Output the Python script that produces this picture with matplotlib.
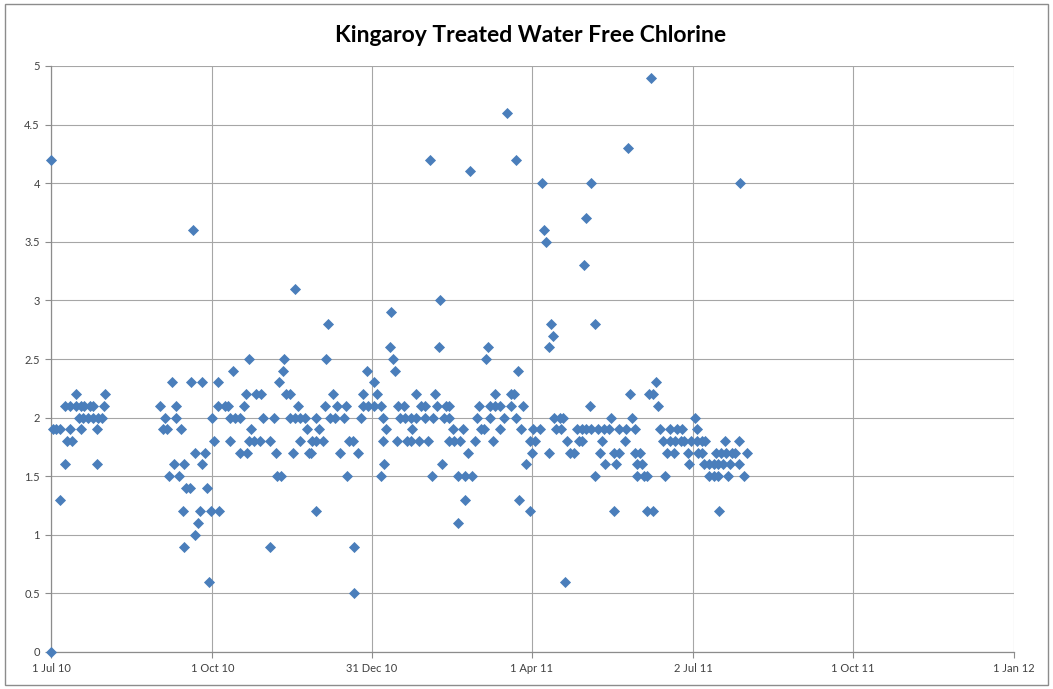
import matplotlib
matplotlib.use("Agg")
import matplotlib.pyplot as plt
import pandas as pd
from matplotlib.patches import Rectangle

# ---------------- data ----------------
title = "Kingaroy Treated Water Free Chlorine"
start_date = "2010-07-01"          # day 0 of the offsets below

# free chlorine levels (mg/L) and the sample days (days since 1 Jul 2010) at each level
levels = [4.9, 4.6, 4.3, 4.2, 4.1, 4.0, 3.7, 3.6, 3.5, 3.3, 3.1, 3.0, 2.9, 2.8, 2.7,
          2.6, 2.5, 2.4, 2.3, 2.2, 2.1, 2.0, 1.9, 1.8, 1.7, 1.6, 1.5, 1.4, 1.3, 1.2,
          1.1, 1.0, 0.9, 0.6, 0.5, 0.0]
days_at_level = [
    [342],                                   # 4.9
    [260],                                   # 4.6
    [329],                                   # 4.3
    [0, 216, 265],                           # 4.2
    [239],                                   # 4.1
    [280, 308, 393],                         # 4.0
    [305],                                   # 3.7
    [81, 281],                               # 3.6
    [282],                                   # 3.5
    [304],                                   # 3.3
    [139],                                   # 3.1
    [222],                                   # 3.0
    [194],                                   # 2.9
    [158, 285, 310],                         # 2.8
    [286],                                   # 2.7
    [193, 221, 249, 284],                    # 2.6
    [113, 133, 157, 195, 248],               # 2.5
    [104, 132, 180, 196, 266],               # 2.4
    [69, 80, 86, 95, 130, 184, 345],         # 2.3
    [14, 31, 111, 117, 120, 134, 136, 161, 178, 186, 208, 219, 253, 262, 264,
     330, 341, 343],                         # 2.2
    [8, 11, 14, 17, 19, 22, 24, 30, 62, 71, 95, 99, 101, 110, 141, 156, 163, 168,
     178, 181, 184, 188, 198, 201, 211, 213, 220, 225, 227, 244, 250, 253, 256,
     262, 269, 307, 346],                    # 2.1
    [16, 18, 21, 24, 27, 29, 65, 71, 92, 102, 105, 108, 121, 127, 136, 139, 142,
     145, 151, 159, 162, 167, 177, 189, 199, 202, 205, 208, 213, 218, 224, 227,
     243, 250, 258, 265, 287, 290, 292, 319, 331, 367],   # 2.0
    [1, 3, 5, 11, 17, 26, 64, 66, 74, 114, 146, 153, 191, 206, 229, 235, 245,
     247, 256, 268, 275, 279, 288, 291, 300, 303, 305, 308, 312, 315, 318, 324,
     328, 333, 347, 353, 357, 360, 368],     # 1.9
    [9, 12, 93, 102, 113, 116, 119, 125, 142, 149, 151, 155, 170, 172, 189, 197,
     203, 205, 210, 215, 227, 230, 233, 242, 252, 273, 276, 294, 301, 303, 314,
     327, 349, 353, 356, 359, 361, 365, 368, 371, 373, 384, 392],   # 1.8
    [82, 88, 108, 112, 128, 138, 147, 148, 165, 175, 238, 274, 284, 296, 298,
     313, 321, 324, 333, 336, 351, 355, 363, 369, 371, 379, 382, 385, 388, 390,
     397],                                   # 1.7
    [8, 26, 70, 76, 86, 190, 223, 271, 316, 322, 334, 337, 364, 372, 375, 378,
     380, 383, 387, 392],                    # 1.6
    [67, 73, 129, 131, 169, 188, 217, 232, 236, 240, 310, 334, 338, 340, 350,
     375, 378, 380, 386, 395],               # 1.5
    [77, 79, 89],                            # 1.4
    [5, 236, 267],                           # 1.3
    [75, 85, 91, 96, 151, 273, 321, 340, 343, 381],   # 1.2
    [84, 232],                               # 1.1
    [82],                                    # 1.0
    [76, 125, 173],                          # 0.9
    [90, 293],                               # 0.6
    [173],                                   # 0.5
    [0],                                     # 0.0
]

x_tick_dates = ["2010-07-01", "2010-10-01", "2010-12-31", "2011-04-01",
                "2011-07-02", "2011-10-01", "2012-01-01"]
x_tick_labels = ["1 Jul 10", "1 Oct 10", "31 Dec 10", "1 Apr 11",
                 "2 Jul 11", "1 Oct 11", "1 Jan 12"]
y_ticks = [0, 0.5, 1, 1.5, 2, 2.5, 3, 3.5, 4, 4.5, 5]
y_tick_labels = ["0", "0.5", "1", "1.5", "2", "2.5", "3", "3.5", "4", "4.5", "5"]

# ---------------- build series ----------------
t0 = pd.Timestamp(start_date)
dates, values = [], []
for lvl, ds in zip(levels, days_at_level):
    for d in ds:
        dates.append(t0 + pd.Timedelta(days=d))
        values.append(lvl)

# ---------------- plot ----------------
W, H = 1053, 689
fig = plt.figure(figsize=(W / 100, H / 100), dpi=100)
fig.patch.set_facecolor("white")

# outer chart border
fig.add_artist(Rectangle((5 / W, 4 / H), 1043 / W, 681 / H, transform=fig.transFigure,
                         fill=False, edgecolor="#8C8C8C", linewidth=1.0))

ax = fig.add_axes([51 / W, 37 / H, 963 / W, 586 / H])
font_fam = ["Lato", "DejaVu Sans"]

ax.scatter(dates, values, marker="D", s=32, color="#4A7EBB", linewidths=0,
           zorder=3, clip_on=False)

ax.set_xlim(pd.Timestamp(x_tick_dates[0]), pd.Timestamp(x_tick_dates[-1]))
ax.set_ylim(0, 5)
ax.set_xticks([pd.Timestamp(d) for d in x_tick_dates])
ax.set_xticklabels(x_tick_labels, fontsize=8, family=font_fam, color="#404040")
ax.set_yticks(y_ticks)
ax.set_yticklabels(y_tick_labels, fontsize=8, family=font_fam, color="#404040")

ax.grid(True, color="#A6A6A6", linewidth=0.8)
ax.set_axisbelow(True)
for side in ["top", "right"]:
    ax.spines[side].set_visible(False)
for side in ["left", "bottom"]:
    ax.spines[side].set_color("#8C8C8C")
    ax.spines[side].set_linewidth(0.9)
ax.tick_params(axis="both", length=4, color="#8C8C8C", width=0.8, pad=4)

fig.text(531 / W, 1 - 35 / H, title, ha="center", va="center", fontsize=16.5,
         fontweight="bold", family=font_fam, color="black")

fig.savefig("out.png", dpi=100)
